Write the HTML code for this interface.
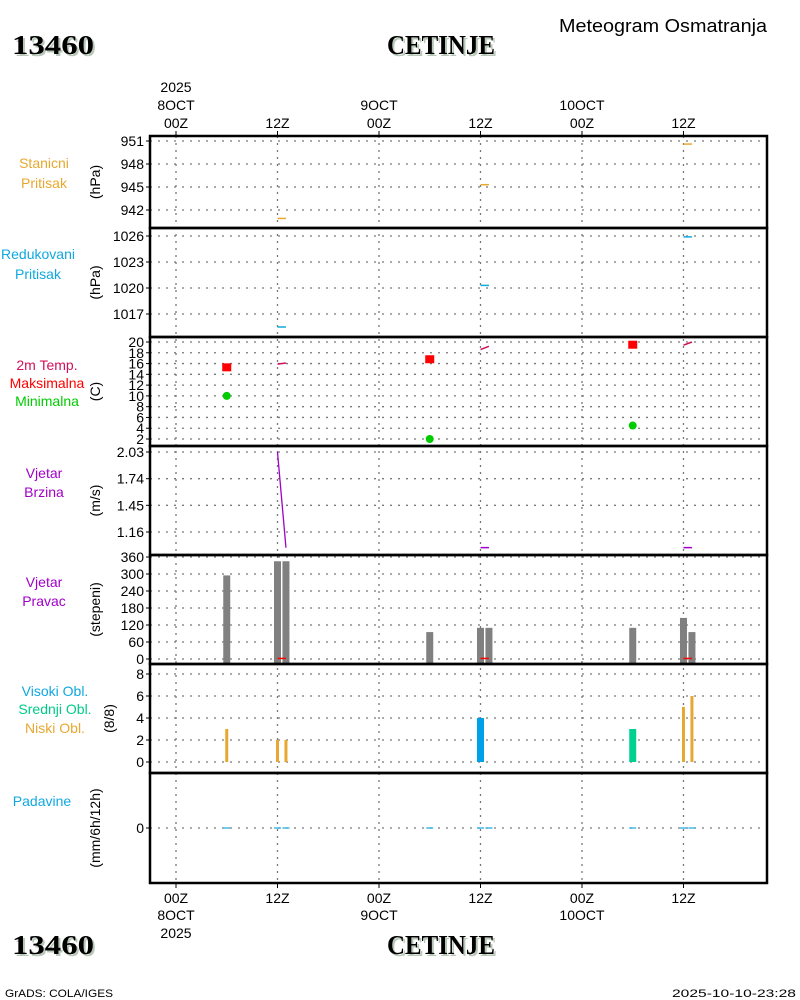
<!DOCTYPE html>
<html><head><meta charset="utf-8"><style>
html,body{margin:0;padding:0;background:#fff}
svg{display:block;font-family:"Liberation Sans",sans-serif}
</style></head><body>
<svg id="chart" width="800" height="1000" viewBox="0 0 800 1000">
<g>
<text x="14" y="56" font-family="Liberation Serif" font-weight="bold" font-size="27" fill="#b8c8b8" textLength="82" lengthAdjust="spacingAndGlyphs">13460</text>
<text x="12" y="54" font-family="Liberation Serif" font-weight="bold" font-size="27" fill="#000" textLength="82" lengthAdjust="spacingAndGlyphs">13460</text>
<text x="389" y="56" font-family="Liberation Serif" font-weight="bold" font-size="27" fill="#b8c8b8" textLength="108" lengthAdjust="spacingAndGlyphs">CETINJE</text>
<text x="387" y="54" font-family="Liberation Serif" font-weight="bold" font-size="27" fill="#000" textLength="108" lengthAdjust="spacingAndGlyphs">CETINJE</text>
<text x="559" y="32" font-size="18" fill="#000" textLength="208" lengthAdjust="spacingAndGlyphs">Meteogram Osmatranja</text>
<text x="14" y="956" font-family="Liberation Serif" font-weight="bold" font-size="27" fill="#b8c8b8" textLength="82" lengthAdjust="spacingAndGlyphs">13460</text>
<text x="12" y="954" font-family="Liberation Serif" font-weight="bold" font-size="27" fill="#000" textLength="82" lengthAdjust="spacingAndGlyphs">13460</text>
<text x="389" y="956" font-family="Liberation Serif" font-weight="bold" font-size="27" fill="#b8c8b8" textLength="108" lengthAdjust="spacingAndGlyphs">CETINJE</text>
<text x="387" y="954" font-family="Liberation Serif" font-weight="bold" font-size="27" fill="#000" textLength="108" lengthAdjust="spacingAndGlyphs">CETINJE</text>
<text x="5" y="997" font-size="11" textLength="108" lengthAdjust="spacingAndGlyphs">GrADS: COLA/IGES</text>
<text x="672" y="997" font-size="11" textLength="124" lengthAdjust="spacingAndGlyphs">2025-10-10-23:28</text>
</g>
<g id="grid"></g>
<g id="marks"></g>
<g id="frames"></g>
<g id="labels"></g>
</svg>
<script>
// ---- data ----
const timeTickHours = [0, 12, 24, 36, 48, 60];
const timeTickLabels = ["00Z", "12Z", "00Z", "12Z", "00Z", "12Z"];
const dateLabels = ["8OCT", "", "9OCT", "", "10OCT", ""];
const stanHours = [12, 36, 60];
const stanValues = [940.9, 945.3, 950.6];
const redHours = [12, 36, 60];
const redValues = [1015.5, 1020.3, 1025.9];
const tempSegHours = [12, 36, 60];
const tempSegStart = [15.9, 18.6, 19.4];
const tempSegEnd = [16.1, 19.2, 20.0];
const tmaxHours = [6, 30, 54];
const tmaxValues = [15.3, 16.8, 19.5];
const tminHours = [6, 30, 54];
const tminValues = [10, 2, 4.5];
const windSpeedHours = [12, 13];
const windSpeedValues = [2.03, 0.99];
const windFlatHours = [36, 60];
const windFlatValues = [0.99, 0.99];
const windDirHours = [6, 12, 13, 30, 36, 37, 54, 60, 61];
const windDirValues = [295, 345, 345, 95, 110, 110, 110, 145, 95];
const lowCloudHours = [6, 12, 13, 60, 61];
const lowCloudValues = [3, 2, 2, 5, 6];
const highCloudHours = [36];
const highCloudValues = [4];
const midCloudHours = [54];
const midCloudValues = [3];
const precipHours = [6, 12, 13, 30, 36, 37, 54, 60, 61];
const precipValues = [0, 0, 0, 0, 0, 0, 0, 0, 0];

const NS = "http://www.w3.org/2000/svg";
const X0 = 150, X1 = 767;
const xOf = h => 176 + h * 8.458;
function mk(tag, attrs, parent) {
  const e = document.createElementNS(NS, tag);
  for (const k in attrs) e.setAttribute(k, attrs[k]);
  parent.appendChild(e);
  return e;
}
const grid = document.getElementById('grid');
const marks = document.getElementById('marks');
const frames = document.getElementById('frames');
const labels = document.getElementById('labels');

const panels = [
  {top:136,bot:228,v0:951,y0:141,v1:942,y1:210,ticks:[951,948,945,942],fmt:v=>v,unit:"(hPa)",name:"stanicni"},
  {top:228,bot:337,v0:1026,y0:236,v1:1017,y1:314,ticks:[1026,1023,1020,1017],fmt:v=>v,unit:"(hPa)",name:"redukovani"},
  {top:337,bot:446,v0:20,y0:342,v1:2,y1:439,ticks:[20,18,16,14,12,10,8,6,4,2],fmt:v=>v,unit:"(C)",name:"temperatura"},
  {top:446,bot:555,v0:2.03,y0:452,v1:1.16,y1:532,ticks:[2.03,1.74,1.45,1.16],fmt:v=>v.toFixed(2),unit:"(m/s)",name:"vjetar-brzina"},
  {top:555,bot:664,v0:360,y0:557,v1:0,y1:659,ticks:[360,300,240,180,120,60,0],fmt:v=>v,unit:"(stepeni)",name:"vjetar-pravac"},
  {top:664,bot:773,v0:8,y0:674,v1:0,y1:762,ticks:[8,6,4,2,0],fmt:v=>v,unit:"(8/8)",name:"oblacnost"},
  {top:773,bot:883,v0:1,y0:800,v1:0,y1:828,ticks:[0],fmt:v=>v,unit:"(mm/6h/12h)",name:"padavine"}
];
panels.forEach(p => { p.y = v => p.y0 + (v - p.v0) * (p.y1 - p.y0) / (p.v1 - p.v0); });

// vertical grid
timeTickHours.forEach(h => {
  const l = mk('line', {x1:xOf(h),x2:xOf(h),y1:136,y2:883,stroke:'#777','stroke-width':1.3,'stroke-dasharray':'2,5'}, grid);
  
  
});
panels.forEach(p => {
  const g = mk('g', {}, labels);
  
  
  p.ticks.forEach(t => {
    const y = p.y(t);
    const gl = mk('line', {x1:X0,x2:X1,y1:y,y2:y,stroke:'#777','stroke-width':1.3,'stroke-dasharray':'2,6'}, grid);
    
    
    mk('line', {x1:X0-4,x2:X0,y1:y,y2:y,stroke:'#000'}, g);
    const tx = mk('text', {x:X0-6,y:y+5,'font-size':14,'text-anchor':'end'}, g);
    tx.textContent = p.fmt(t);
    
    
  });
  const cy = (p.top + p.bot) / 2;
  const ux = p.name === 'oblacnost' ? 114 : 100;
  const ut = mk('text', {x:ux,y:cy,'font-size':14,'text-anchor':'middle',transform:`rotate(-90 ${ux} ${cy})`}, g);
  ut.textContent = p.unit;
  
  
});
// frames
panels.forEach(p => {
  const r = mk('rect', {x:X0,y:p.top,width:X1-X0,height:p.bot-p.top,fill:'none',stroke:'#000','stroke-width':2.5}, frames);
  
  
});
// time axes
timeTickHours.forEach((h, i) => {
  const x = xOf(h);
  mk('line', {x1:x,x2:x,y1:131,y2:136,stroke:'#000'}, labels);
  mk('line', {x1:x,x2:x,y1:883,y2:888,stroke:'#000'}, labels);
  const t1 = mk('text', {x:x,y:128,'font-size':14,'text-anchor':'middle'}, labels);
  t1.textContent = timeTickLabels[i];
  
  
  const t2 = mk('text', {x:x,y:903,'font-size':14,'text-anchor':'middle'}, labels);
  t2.textContent = timeTickLabels[i];
  
  
  if (dateLabels[i]) {
    const d1 = mk('text', {x:x,y:110,'font-size':14,'text-anchor':'middle'}, labels);
    d1.textContent = dateLabels[i];
    
    
    const d2 = mk('text', {x:x,y:920,'font-size':14,'text-anchor':'middle'}, labels);
    d2.textContent = dateLabels[i];
    
    
  }
});
[[92,'top-year-label'],[938,'bottom-year-label']].forEach(a => {
  const t = mk('text', {x:xOf(0),y:a[0],'font-size':14,'text-anchor':'middle'}, labels);
  t.textContent = '2025';
  
  
});
// left legend texts
const legends = [
  ["Stanicni",44,168,"#e8a830"],["Pritisak",44,188,"#e8a830"],
  ["Redukovani",38,259,"#10a8e0"],["Pritisak",38,279,"#10a8e0"],
  ["2m Temp.",47,370,"#d0105a"],["Maksimalna",47,388,"#ff0000"],["Minimalna",47,406,"#00cc00"],
  ["Vjetar",44,478,"#a000c8"],["Brzina",44,497,"#a000c8"],
  ["Vjetar",44,587,"#a000c8"],["Pravac",44,606,"#a000c8"],
  ["Visoki Obl.",55,696,"#10a8e0"],["Srednji Obl.",55,714,"#00cc88"],["Niski Obl.",55,733,"#e8a830"],
  ["Padavine",42,806,"#10a8e0"]
];
legends.forEach(l => {
  const t = mk('text', {x:l[1],y:l[2],'font-size':14,'text-anchor':'middle',fill:l[3]}, labels);
  t.textContent = l[0];
  
  
});

// ---- marks ----
const P = panels;
function seg(h, v0, v1, p, color, name) {
  const l = mk('line', {x1:xOf(h),x2:xOf(h+1),y1:p.y(v0),y2:p.y(v1),stroke:color,'stroke-width':1.5}, marks);
  
  
}
stanHours.forEach((h, i) => seg(h, stanValues[i], stanValues[i], P[0], '#e8a830', 'station-pressure-line'));
redHours.forEach((h, i) => seg(h, redValues[i], redValues[i], P[1], '#10a8e0', 'reduced-pressure-line'));
tempSegHours.forEach((h, i) => seg(h, tempSegStart[i], tempSegEnd[i], P[2], '#d0105a', 'temperature-line'));
tmaxHours.forEach((h, i) => {
  const r = mk('rect', {x:xOf(h)-4.5,y:P[2].y(tmaxValues[i])-4,width:9,height:8,fill:'#ff0000'}, marks);
  
  
});
tminHours.forEach((h, i) => {
  const c = mk('circle', {cx:xOf(h),cy:P[2].y(tminValues[i]),r:4,fill:'#00cc00'}, marks);
  
  
});
const wsPts = windSpeedHours.map((h, i) => xOf(h) + ',' + P[3].y(windSpeedValues[i])).join(' ');
const wsl = mk('polyline', {points:wsPts,fill:'none',stroke:'#a000c8','stroke-width':1.3}, marks);


windFlatHours.forEach((h, i) => seg(h, windFlatValues[i], windFlatValues[i], P[3], '#a000c8', 'wind-speed-line'));
windDirHours.forEach((h, i) => {
  const y = P[4].y(windDirValues[i]), yb = P[4].bot;
  const r = mk('rect', {x:xOf(h)-3.5,y:y,width:7,height:yb-y,fill:'#808080'}, marks);
  
  
});
[12, 36, 60].forEach(h => {
  const l = mk('line', {x1:xOf(h),x2:xOf(h+1),y1:P[4].y(2),y2:P[4].y(2),stroke:'#ff0000','stroke-width':1.5}, marks);
  
  
});
function cbar(h, v, w, color, name) {
  const y = P[5].y(v), y0 = P[5].y(0);
  const r = mk('rect', {x:xOf(h)-w/2,y:y,width:w,height:y0-y,fill:color}, marks);
  
  
}
highCloudHours.forEach((h, i) => cbar(h, highCloudValues[i], 7, '#00a0e8', 'high-cloud-bar'));
midCloudHours.forEach((h, i) => cbar(h, midCloudValues[i], 7, '#00d090', 'mid-cloud-bar'));
lowCloudHours.forEach((h, i) => cbar(h, lowCloudValues[i], 3, '#e8a830', 'low-cloud-bar'));
precipHours.forEach((h, i) => {
  const y = P[6].y(precipValues[i]);
  const l = mk('line', {x1:xOf(h)-3.5,x2:xOf(h)+3.5,y1:y,y2:y,stroke:'#10a8e0','stroke-width':1.2}, marks);
  
  
});
</script>
</body></html>
